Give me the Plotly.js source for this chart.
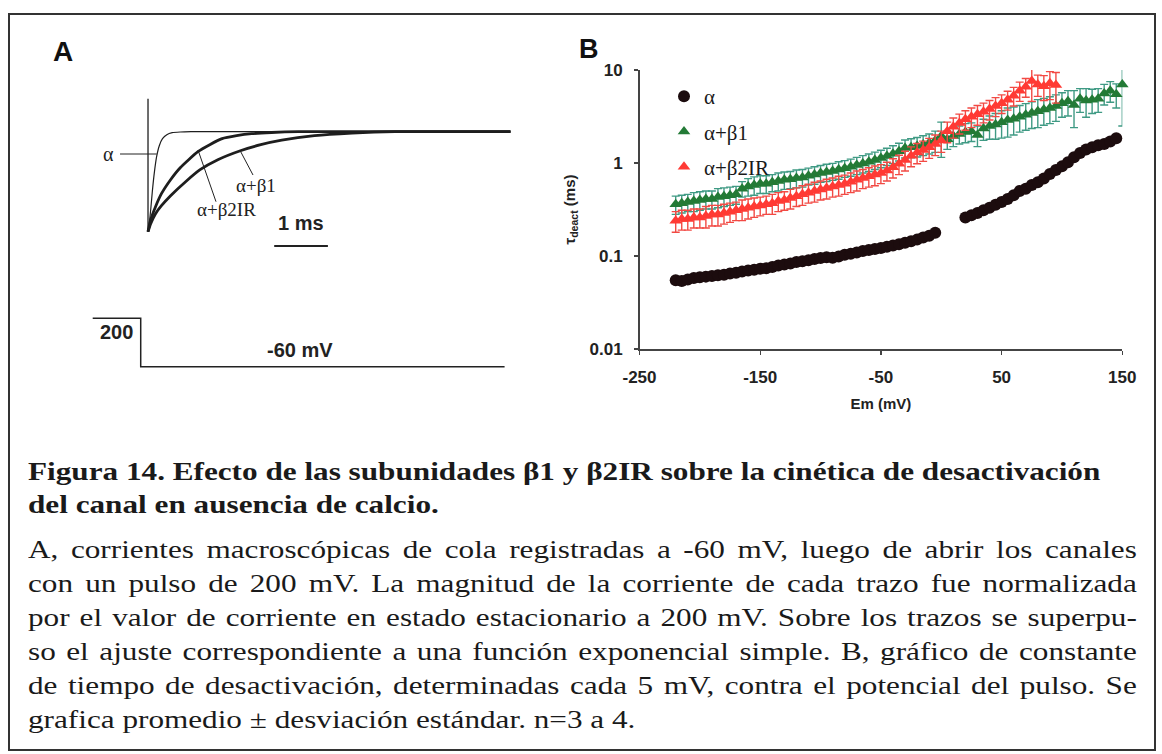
<!DOCTYPE html>
<html>
<head>
<meta charset="utf-8">
<script src="https://cdn.plot.ly/plotly-3.0.1.min.js"></script>
<style>
  html, body { margin:0; padding:0; background:#fff; width:1162px; height:754px; overflow:hidden; }
  #frame { position:absolute; left:8px; top:13px; width:1148px; height:738px; border:2px solid #333; box-sizing:border-box; }
  #plot { position:absolute; left:0; top:0; width:1162px; height:420px; }
  .ln { position:absolute; left:28px; width:924px; font-family:"Liberation Serif","Times New Roman",serif; font-size:26px; line-height:34px; color:#1a1a1a; white-space:nowrap; transform:scaleX(1.2); transform-origin:0 0; }
  .j { text-align:justify; text-align-last:justify; white-space:normal; }
  .b { font-weight:bold; }
</style>
</head>
<body>
<div id="frame"></div>
<div id="plot"></div>
<div class="ln b" style="top:455px">Figura 14. Efecto de las subunidades β1 y β2IR sobre la cinética de desactivación</div>
<div class="ln b" style="top:488px">del canal en ausencia de calcio.</div>
<div class="ln j" style="top:533px">A, corrientes macroscópicas de cola registradas a -60 mV, luego de abrir los canales</div>
<div class="ln j" style="top:567px">con un pulso de 200 mV. La magnitud de la corriente de cada trazo fue normalizada</div>
<div class="ln j" style="top:601px">por el valor de corriente en estado estacionario a 200 mV. Sobre los trazos se superpu-</div>
<div class="ln j" style="top:635px">so el ajuste correspondiente a una función exponencial simple. B, gráfico de constante</div>
<div class="ln j" style="top:669px">de tiempo de desactivación, determinadas cada 5 mV, contra el potencial del pulso. Se</div>
<div class="ln" style="top:703px">grafica promedio ± desviación estándar. n=3 a 4.</div>
<script>
// ---------- Panel A: normalized tail currents (time in ms) ----------
const tAlpha = [0, 0.02, 0.05, 0.08, 0.12, 0.16, 0.21, 0.27, 0.35, 0.45, 0.6, 0.8, 1.2, 6.75];
const iAlpha = [-1, -0.93, -0.78, -0.6, -0.4, -0.25, -0.14, -0.07, -0.03, -0.01, -0.003, 0, 0, 0];
const tBeta2 = [0, 0.05, 0.14, 0.25, 0.42, 0.6, 0.93, 1.15, 1.38, 1.65, 1.93, 2.3, 2.8, 6.75];
const iBeta2 = [-1, -0.88, -0.75, -0.62, -0.48, -0.36, -0.2, -0.13, -0.07, -0.04, -0.02, -0.008, 0, 0];
const tBeta1 = [0, 0.05, 0.14, 0.25, 0.42, 0.7, 0.97, 1.3, 1.72, 2.1, 2.49, 3.1, 3.8, 4.6, 6.75];
const iBeta1 = [-1, -0.92, -0.82, -0.74, -0.64, -0.5, -0.38, -0.28, -0.19, -0.13, -0.085, -0.04, -0.015, 0, 0];
const tArtifact = [0, 0];
const iArtifact = [0.33, -1];
const tScaleBar = [2.35, 3.35];
const iScaleBar = [-1.143, -1.143];
// voltage protocol (mV)
const tProt = [-1.03, -0.136, -0.136, 6.64];
const vProt = [200, 200, -60, -60];

// ---------- Panel B: tau deact (ms) vs Em (mV) ----------
const emAll = [-220,-215,-210,-205,-200,-195,-190,-185,-180,-175,-170,-165,-160,-155,-150,-145,-140,-135,-130,-125,-120,-115,-110,-105,-100,-95,-90,-85,-80,-75,-70,-65,-60,-55,-50,-45,-40,-35,-30,-25,-20,-15,-10,-5,0,5,10,15,20,25,30,35,40,45,50,55,60,65,70,75,80,85,90,95,100,105,110,115,120,125,130,135,140,145,150];
const tauAlpha = [0.055,0.054,0.056,0.058,0.059,0.060,0.061,0.062,0.063,0.065,0.066,0.068,
 0.070,0.071,0.073,0.074,0.076,0.079,0.081,0.083,0.086,0.088,0.090,0.093,
 0.095,0.097,0.096,0.099,0.103,0.106,0.109,0.113,0.116,0.119,0.122,0.126,
 0.130,0.134,0.139,0.144,0.150,0.158,0.165,0.178,null,null,null,null,
 0.260,0.275,0.290,0.310,0.330,0.355,0.380,0.410,0.450,0.500,0.530,0.580,
 0.620,0.680,0.760,0.840,0.920,1.020,1.150,1.280,1.400,1.480,1.550,1.600,
 1.700,1.850,null];
const tauBeta1 = [0.36,0.37,0.38,0.39,0.40,0.41,0.41,0.43,0.44,0.45,0.46,0.53,
 0.56,0.58,0.60,0.60,0.62,0.64,0.66,0.67,0.69,0.70,0.73,0.75,
 0.78,0.80,0.82,0.85,0.88,0.91,0.95,0.99,1.03,1.08,1.13,1.19,
 1.26,1.34,1.45,1.48,1.52,1.58,1.65,1.75,1.95,1.80,1.95,2.05,
 2.15,2.20,2.00,2.35,2.50,2.60,2.75,2.90,3.00,3.15,3.30,3.45,
 3.60,3.75,3.90,4.10,4.40,4.60,4.20,4.90,4.70,4.80,4.90,5.60,
 6.00,5.50,7.00];
const sdBeta1 = [0.08,0.08,0.08,0.09,0.09,0.09,0.09,0.10,0.10,0.10,0.10,0.10,
 0.12,0.13,0.13,0.13,0.13,0.14,0.14,0.14,0.15,0.15,0.15,0.16,
 0.16,0.17,0.17,0.18,0.18,0.19,0.20,0.21,0.22,0.23,0.24,0.25,
 0.27,0.29,0.32,0.34,0.36,0.38,0.40,0.45,0.80,0.40,0.45,0.45,
 0.50,0.50,0.50,0.60,0.70,0.80,0.90,1.00,1.00,1.00,1.05,1.10,
 1.20,1.20,1.25,1.30,1.30,1.40,1.80,1.40,1.60,1.40,1.40,1.40,
 1.50,1.60,4.50];
const emBeta2 = [-220,-215,-210,-205,-200,-195,-190,-185,-180,-175,-170,-165,-160,-155,-150,-145,-140,-135,-130,-125,-120,-115,-110,-105,-100,-95,-90,-85,-80,-75,-70,-65,-60,-55,-50,-45,-40,-35,-30,-25,-20,-15,-10,-5,0,5,10,15,20,25,30,35,40,45,50,55,60,65,70,75,80,85,90,95];
const tauBeta2 = [0.24,0.25,0.25,0.26,0.26,0.27,0.28,0.28,0.29,0.30,0.31,0.32,
 0.33,0.34,0.35,0.36,0.37,0.39,0.40,0.42,0.44,0.46,0.48,0.50,
 0.52,0.54,0.56,0.58,0.60,0.63,0.66,0.69,0.72,0.75,0.78,0.83,
 0.90,0.98,1.08,1.20,1.30,1.38,1.48,1.60,1.75,2.20,2.45,2.70,
 2.95,3.15,3.35,3.55,3.80,4.10,4.40,4.80,5.30,6.00,6.60,7.60,
 7.00,6.70,7.20,6.90];
const sdBeta2 = [0.06,0.06,0.06,0.06,0.06,0.07,0.07,0.07,0.07,0.07,0.07,0.08,
 0.08,0.08,0.08,0.08,0.09,0.09,0.09,0.10,0.10,0.11,0.11,0.12,
 0.12,0.13,0.13,0.14,0.14,0.15,0.16,0.16,0.17,0.18,0.18,0.19,
 0.21,0.23,0.26,0.29,0.32,0.34,0.36,0.40,0.45,0.55,0.60,0.65,
 0.70,0.75,0.80,0.85,0.90,0.95,1.00,1.10,1.20,1.40,1.50,3.00,
 1.80,2.00,2.40,2.50];
const seriesNames = ['α', 'α+β1', 'α+β2IR'];
const yTickVals = [0.01, 0.1, 1, 10];
const yTickText = ['0.01', '0.1', '1', '10'];
const xTickVals = [-250, -150, -50, 50, 150];
const xTickText = ['-250', '-150', '-50', '50', '150'];

const W = 1162, H = 420;
const px = v => v / W;          // paper x from pixel
const py = v => (H - v) / H;    // paper y from pixel

const traceLine = (t, i, w) => ({x:t, y:i, xaxis:'x', yaxis:'y', type:'scatter', mode:'lines',
  line:{color:'#1e1e1e', width:w, shape:'spline', smoothing:0.6}, showlegend:false, hoverinfo:'skip'});

const data = [
  traceLine(tArtifact, iArtifact, 1.3),
  traceLine(tBeta1, iBeta1, 2.8),
  traceLine(tBeta2, iBeta2, 2.8),
  traceLine(tAlpha, iAlpha, 1.2),
  {x:tScaleBar, y:iScaleBar, xaxis:'x', yaxis:'y', type:'scatter', mode:'lines', line:{color:'#222', width:2}, showlegend:false, hoverinfo:'skip'},
  {x:tProt, y:vProt, xaxis:'x', yaxis:'y3', type:'scatter', mode:'lines', line:{color:'#222', width:1.5}, showlegend:false, hoverinfo:'skip'},
  {x:emAll, y:tauAlpha, xaxis:'x2', yaxis:'y2', type:'scatter', mode:'markers', name:seriesNames[0], legendgroup:'a',
   marker:{symbol:'circle', size:12, color:'#1c0c0e'}, cliponaxis:false},
  {x:emAll, y:tauBeta1, xaxis:'x2', yaxis:'y2', type:'scatter', mode:'markers', name:seriesNames[1], legendgroup:'b1',
   marker:{symbol:'triangle-up', size:11, color:'#237a36'}, cliponaxis:false,
   error_y:{type:'data', array:sdBeta1, visible:true, color:'#3f9a84', thickness:1.4, width:4}},
  {x:emBeta2, y:tauBeta2, xaxis:'x2', yaxis:'y2', type:'scatter', mode:'markers', name:seriesNames[2], legendgroup:'b2',
   marker:{symbol:'triangle-up', size:11, color:'#ff3a34'}, cliponaxis:false,
   error_y:{type:'data', array:sdBeta2, visible:true, color:'#f24a44', thickness:1.4, width:4}}
];

const sans = 'Liberation Sans, Arial, sans-serif';
const serif = 'Liberation Serif, Times New Roman, serif';
const tickFont = {family:sans, size:17, color:'#222', weight:'bold'};
const ann = (o) => Object.assign({showarrow:false, xanchor:'center', yanchor:'middle'}, o);

const layout = {
  width:W, height:H, margin:{l:0, r:0, t:0, b:0},
  paper_bgcolor:'rgba(0,0,0,0)', plot_bgcolor:'rgba(0,0,0,0)',
  font:{family:sans, color:'#222'},
  xaxis:{domain:[px(60), px(560)], range:[-1.639, 7.672], visible:false, anchor:'y'},
  yaxis:{domain:[py(260), py(80)], range:[-1.283, 0.517], visible:false, anchor:'x'},
  yaxis3:{domain:[py(390), py(300)], range:[-185.2, 298.3], visible:false, anchor:'x'},
  xaxis2:{domain:[px(639.5), px(1122.3)], range:[-250, 150], anchor:'y2',
    tickvals:xTickVals, ticktext:xTickText, ticks:'outside', ticklen:4, tickwidth:1.3, tickcolor:'#444',
    showline:true, linecolor:'#444', linewidth:1.5, showgrid:false, zeroline:false,
    tickfont:tickFont, ticklabelstandoff:8,
    title:{text:'Em (mV)', font:{family:sans, size:15, color:'#222', weight:'bold'}, standoff:12}},
  yaxis2:{domain:[py(349), py(70)], type:'log', range:[-2, 1], anchor:'x2',
    tickvals:yTickVals, ticktext:yTickText, ticks:'outside', ticklen:4, tickwidth:1.3, tickcolor:'#444',
    showline:true, linecolor:'#444', linewidth:1.5, showgrid:false, zeroline:false,
    tickfont:tickFont, ticklabelstandoff:8,
    title:{text:'τ<sub>deact</sub> (ms)', font:{family:sans, size:15, color:'#222', weight:'bold'}, standoff:10}},
  showlegend:true,
  legend:{x:px(664), y:py(76), xanchor:'left', yanchor:'top', bgcolor:'rgba(0,0,0,0)',
    font:{family:serif, size:21, color:'#1a1a1a'}, tracegroupgap:5, itemwidth:30},
  annotations:[
    ann({text:'<b>A</b>', xref:'paper', yref:'paper', x:px(63), y:py(51), font:{family:sans, size:28, color:'#111'}}),
    ann({text:'<b>B</b>', xref:'paper', yref:'paper', x:px(589), y:py(49), font:{family:sans, size:27, color:'#111'}}),
    ann({text:'α', xref:'x', yref:'y', x:-0.74, y:-0.223, font:{family:serif, size:20, color:'#222'}}),
    ann({text:'α+β1', xref:'x', yref:'y', x:2.004, y:-0.533, font:{family:serif, size:19, color:'#222'}}),
    ann({text:'α+β2IR', xref:'x', yref:'y', x:1.453, y:-0.776, font:{family:serif, size:19, color:'#222'}}),
    ann({text:'<b>1 ms</b>', xref:'x', yref:'y', x:2.85, y:-0.913, font:{family:sans, size:20, color:'#222'}}),
    ann({text:'<b>200</b>', xref:'x', yref:'y3', x:-0.583, y:128, font:{family:sans, size:20, color:'#222'}}),
    ann({text:'<b>-60 mV</b>', xref:'x', yref:'y3', x:2.83, y:29.7, font:{family:sans, size:20, color:'#222'}})
  ],
  shapes:[
    {type:'line', xref:'x', yref:'y', x0:-0.521, y0:-0.223, x1:0.162, y1:-0.223, line:{color:'#222', width:1}},
    {type:'line', xref:'x', yref:'y', x0:1.955, y0:-0.433, x1:1.726, y1:-0.2, line:{color:'#222', width:1}},
    {type:'line', xref:'x', yref:'y', x0:1.266, y0:-0.70, x1:0.931, y1:-0.183, line:{color:'#222', width:1}}
  ]
};

Plotly.newPlot('plot', data, layout, {displayModeBar:false, staticPlot:true});
</script>
</body>
</html>
